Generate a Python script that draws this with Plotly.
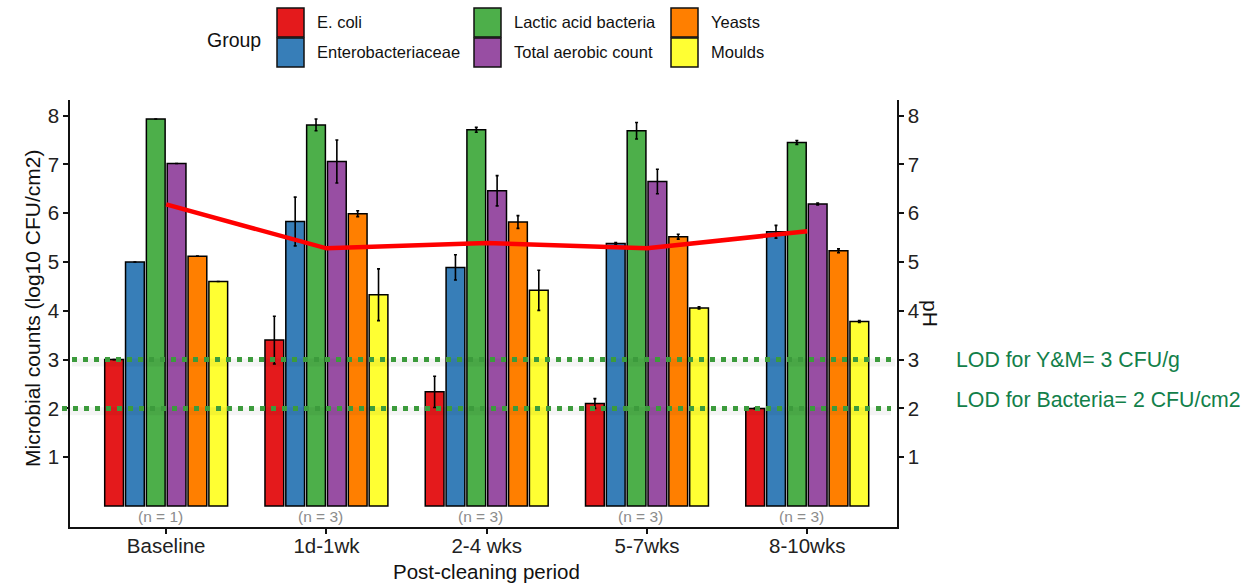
import plotly.graph_objects as go

periods = ["Baseline", "1d-1wk", "2-4 wks", "5-7wks", "8-10wks"]
n_labels = ["(n = 1)", "(n = 3)", "(n = 3)", "(n = 3)", "(n = 3)"]

groups = ["E. coli", "Enterobacteriaceae", "Lactic acid bacteria",
          "Total aerobic count", "Yeasts", "Moulds"]
colors = ["#E41A1C", "#377EB8", "#4DAF4A", "#984EA3", "#FF7F00", "#FFFF33"]

ecoli = [3.0, 3.40, 2.34, 2.10, 2.00]
ecoli_sd = [None, 0.49, 0.32, 0.10, 0.01]
entero = [5.0, 5.83, 4.89, 5.38, 5.62]
entero_sd = [None, 0.50, 0.26, 0.02, 0.13]
lab = [7.93, 7.81, 7.71, 7.69, 7.45]
lab_sd = [None, 0.12, 0.05, 0.17, 0.04]
tac = [7.02, 7.06, 6.46, 6.65, 6.19]
tac_sd = [None, 0.44, 0.31, 0.25, 0.02]
yeasts = [5.12, 5.99, 5.82, 5.52, 5.23]
yeasts_sd = [None, 0.06, 0.13, 0.05, 0.04]
moulds = [4.60, 4.33, 4.42, 4.06, 3.78]
moulds_sd = [None, 0.53, 0.41, 0.02, 0.02]

ph = [6.18, 5.28, 5.39, 5.28, 5.63]

lod_ym = 3
lod_bact = 2
lod_texts = ["LOD for Y&M= 3 CFU/g", "LOD for Bacteria= 2 CFU/cm2"]

values = [ecoli, entero, lab, tac, yeasts, moulds]
sds = [ecoli_sd, entero_sd, lab_sd, tac_sd, yeasts_sd, moulds_sd]

FONT = "Liberation Sans, Arial, sans-serif"

# plot area in pixels
L, R, T, B = 70, 897, 100, 527
W, H = R - L, B - T

def px(x):
    return (x - L) / W

def py(y):
    return (B - y) / H

fig = go.Figure()
for g, c, v, s in zip(groups, colors, values, sds):
    fig.add_trace(go.Bar(
        x=periods, y=v, name=g,
        marker=dict(color=c, line=dict(color="black", width=1.5)),
        error_y=dict(type="data", array=s, visible=True, color="black",
                     thickness=1.6, width=1.5),
        showlegend=False,
    ))

fig.add_trace(go.Scatter(
    x=periods, y=ph, mode="lines", yaxis="y2",
    line=dict(color="#FF0000", width=4.5), showlegend=False, name="pH",
))

shapes = []
annotations = []

# LOD dotted lines (with faint shadow)
for val, x0, x1 in [(lod_ym, px(72), px(895)), (lod_bact, px(62), px(891))]:
    shapes.append(dict(type="line", xref="paper", yref="y", x0=x0, x1=x1,
                       y0=val - 0.06, y1=val - 0.06,
                       line=dict(color="rgba(0,0,0,0.045)", width=8), layer="above"))
    shapes.append(dict(type="line", xref="paper", yref="y", x0=x0, x1=x1,
                       y0=val, y1=val,
                       line=dict(color="#3C9B3C", width=5, dash="5px,6px"), layer="above"))

# LOD labels
for txt, ycen in zip(lod_texts, [360, 400]):
    annotations.append(dict(text=txt, xref="paper", yref="paper", x=px(954), y=py(ycen),
                            xanchor="left", yanchor="middle", showarrow=False,
                            font=dict(family=FONT, size=21.3, color="#12804A")))

# n labels
for p, n in zip(periods, n_labels):
    annotations.append(dict(text=n, x=p, y=-0.22, xref="x", yref="y", showarrow=False,
                            xanchor="center", yanchor="middle", xshift=-6,
                            font=dict(family=FONT, size=15.5, color="#8C8C8C")))

# axis titles
annotations.append(dict(text="Microbial counts (log10 CFU/cm2)", xref="paper", yref="paper",
                        x=px(32), y=py(309), textangle=-90, showarrow=False,
                        xanchor="center", yanchor="middle",
                        font=dict(family=FONT, size=21, color="#111")))
annotations.append(dict(text="pH", xref="paper", yref="paper",
                        x=px(931), y=py(313), textangle=90, showarrow=False,
                        xanchor="center", yanchor="middle",
                        font=dict(family=FONT, size=21, color="#111")))
annotations.append(dict(text="Post-cleaning period", xref="paper", yref="paper",
                        x=px(486), y=py(571), showarrow=False,
                        xanchor="center", yanchor="middle",
                        font=dict(family=FONT, size=20.5, color="#111")))

# manual legend
annotations.append(dict(text="Group", xref="paper", yref="paper", x=px(205), y=py(40),
                        xanchor="left", yanchor="middle", showarrow=False,
                        font=dict(family=FONT, size=19.5, color="#111")))
col_x = [277, 474, 671]
row_y = [(8, 37), (38, 67)]
for i, (g, c) in enumerate(zip(groups, colors)):
    col, row = i // 2, i % 2
    x0 = col_x[col]
    y0, y1 = row_y[row]
    shapes.append(dict(type="rect", xref="paper", yref="paper",
                       x0=px(x0), x1=px(x0 + 27), y0=py(y1), y1=py(y0),
                       fillcolor=c, line=dict(color="#111", width=1.5), layer="above"))
    annotations.append(dict(text=g, xref="paper", yref="paper", x=px(x0 + 38),
                            y=py((y0 + y1) / 2), xanchor="left", yanchor="middle",
                            showarrow=False,
                            font=dict(family=FONT, size=16.5, color="#111")))

yr = [-0.43, 8.32]
TICKF = dict(family=FONT, size=20.5, color="#222")
fig.update_layout(
    width=1255, height=585,
    margin=dict(l=L, r=1255 - R, t=T, b=585 - B),
    paper_bgcolor="white", plot_bgcolor="white",
    barmode="group", bargap=0.22, bargroupgap=0.1,
    font=dict(family=FONT, size=19, color="#222"),
    xaxis=dict(range=[-0.6, 4.56], showline=True, linecolor="#111", linewidth=1.5,
               ticks="outside", ticklen=5, tickcolor="#111", tickwidth=1.5,
               ticklabelstandoff=-5,
               showgrid=False, zeroline=False, tickfont=TICKF),
    yaxis=dict(range=yr, tickvals=[1, 2, 3, 4, 5, 6, 7, 8], showline=True,
               linecolor="#111", linewidth=1.5, ticks="outside", ticklen=5,
               tickcolor="#111", tickwidth=1.5, showgrid=False, zeroline=False,
               tickfont=TICKF),
    yaxis2=dict(range=yr, overlaying="y", side="right", tickvals=[1, 2, 3, 4, 5, 6, 7, 8],
                showline=True, linecolor="#111", linewidth=1.5, ticks="outside",
                ticklen=5, tickcolor="#111", tickwidth=1.5, showgrid=False,
                zeroline=False, tickfont=TICKF),
    shapes=shapes, annotations=annotations,
)

fig.write_html("out.html", config={"displayModeBar": False},
               post_script="document.body.style.margin='0px';document.body.style.overflow='hidden';")
